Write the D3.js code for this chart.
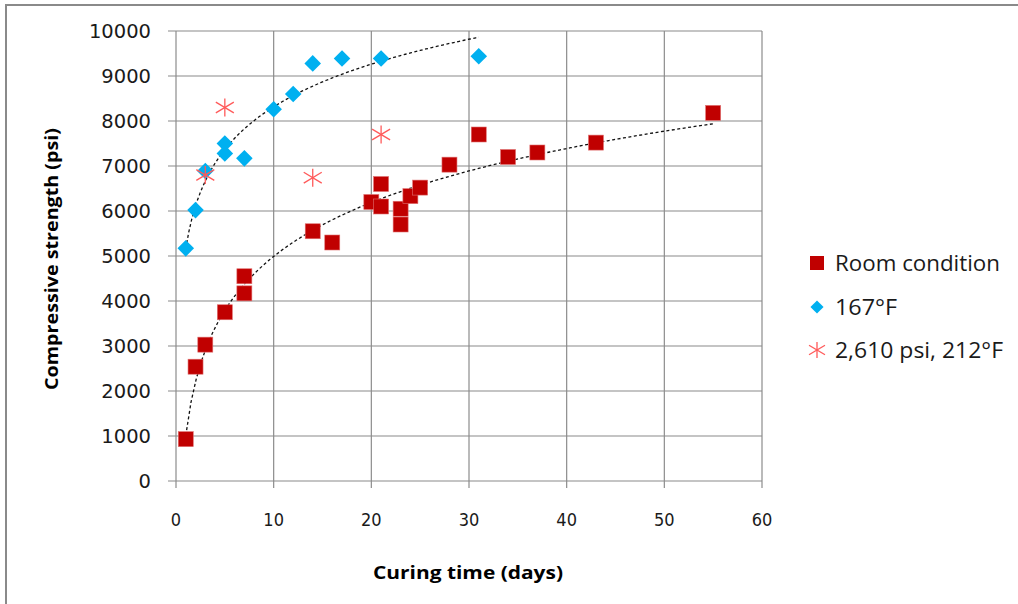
<!DOCTYPE html>
<meta charset="utf-8">
<style>
  body { margin: 0; background: #fff; }
  * { font-family: 'Open Sans', sans-serif; }
</style>
<svg width="1018" height="604"></svg>
<script src="https://d3js.org/d3.v7.min.js"></script>
<script>
// Room condition
var roomDays = [1, 2, 3, 5, 7, 7, 14, 16, 20, 21, 21, 23, 23, 24, 25, 28, 31, 34, 37, 43, 55];
var roomPsi  = [930, 2540, 3030, 3750, 4550, 4170, 5550, 5300, 6200, 6600, 6100, 6050, 5700, 6330, 6520, 7030, 7700, 7200, 7300, 7520, 8180];
// 167°F
var hotDays = [1, 2, 3, 5, 5, 7, 10, 12, 14, 17, 21, 31];
var hotPsi  = [5170, 6020, 6890, 7500, 7280, 7170, 8260, 8600, 9280, 9390, 9390, 9440];
// 2,610 psi, 212°F
var pressDays = [3, 5, 14, 21];
var pressPsi  = [6800, 8300, 6740, 7700];

var xTicks = [0, 10, 20, 30, 40, 50, 60];
var yTicks = [0, 1000, 2000, 3000, 4000, 5000, 6000, 7000, 8000, 9000, 10000];
var seriesNames = ["Room condition", "167°F", "2,610 psi, 212°F"];
var legendWidths = [165, 62, 168];

var svg = d3.select("svg");
var plot = {left: 176, right: 762, top: 31, bottom: 481};

var x = d3.scaleLinear().domain([0, 60]).range([plot.left, plot.right]);
var y = d3.scaleLinear().domain([0, 10000]).range([plot.bottom, plot.top]);

// frame lines of the picture
svg.append("line").attr("x1", 5).attr("x2", 1018).attr("y1", 5).attr("y2", 5)
    .attr("stroke", "#8a8a8a").attr("stroke-width", 2);
svg.append("line").attr("x1", 6).attr("x2", 6).attr("y1", 4).attr("y2", 604)
    .attr("stroke", "#8a8a8a").attr("stroke-width", 2);

// gridlines
svg.append("g").selectAll("line").data(yTicks).join("line")
    .attr("x1", plot.left - 8).attr("x2", plot.right)
    .attr("y1", d => y(d)).attr("y2", d => y(d))
    .attr("stroke", "#b0b0b0").attr("stroke-width", 1.5);
svg.append("g").selectAll("line").data(xTicks).join("line")
    .attr("x1", d => x(d)).attr("x2", d => x(d))
    .attr("y1", plot.top).attr("y2", plot.bottom + 7)
    .attr("stroke", "#8c8c8c").attr("stroke-width", 1.2);

// tick labels
svg.append("g").selectAll("text").data(yTicks).join("text")
    .attr("x", 151).attr("y", d => y(d)).attr("dy", "0.36em")
    .attr("text-anchor", "end")
    .style("font-family", "'DejaVu Sans'").style("font-size", "19.5px").attr("fill", "#1a1a1a")
    .text(d => d);
svg.append("g").selectAll("text").data(xTicks).join("text")
    .attr("x", d => x(d)).attr("y", 520).attr("dy", "0.36em")
    .attr("text-anchor", "middle")
    .style("font-family", "'Liberation Sans Narrow', 'DejaVu Sans Condensed', 'Open Sans'")
    .style("font-size", "18px").attr("fill", "#1a1a1a")
    .text(d => d);

// axis titles
svg.append("text")
    .attr("x", 468).attr("y", 573).attr("dy", "0.36em")
    .attr("text-anchor", "middle")
    .style("font-size", "18px").style("font-weight", "bold")
    .attr("textLength", 190).attr("lengthAdjust", "spacingAndGlyphs")
    .text("Curing time (days)");
svg.append("text")
    .attr("transform", "translate(52,259) rotate(-90)")
    .attr("dy", "0.36em")
    .attr("text-anchor", "middle")
    .style("font-size", "18px").style("font-weight", "bold")
    .attr("textLength", 262).attr("lengthAdjust", "spacingAndGlyphs")
    .text("Compressive strength (psi)");

// log trendlines fitted from the data (like Excel's logarithmic trendline)
function logFit(xs, ys) {
  var lx = xs.map(Math.log);
  var mx = d3.mean(lx), my = d3.mean(ys);
  var sxy = d3.sum(lx, (v, i) => (v - mx) * (ys[i] - my));
  var sxx = d3.sum(lx, v => (v - mx) * (v - mx));
  var a = sxy / sxx, b = my - a * mx;
  var lo = d3.min(xs), hi = d3.max(xs);
  return d3.range(0, 101).map(k => {
    var t = lo + (hi - lo) * k / 100;
    return [t, a * Math.log(t) + b];
  });
}
var line = d3.line().x(d => x(d[0])).y(d => y(d[1]));
[[roomDays, roomPsi], [hotDays, hotPsi]].forEach(s => {
  svg.append("path").attr("d", line(logFit(s[0], s[1])))
      .attr("fill", "none").attr("stroke", "#111").attr("stroke-width", 1.3)
      .attr("stroke-dasharray", "3,2.5");
});

// markers
var roomData = roomDays.map((d, i) => [d, roomPsi[i]]);
var hotData = hotDays.map((d, i) => [d, hotPsi[i]]);
var pressData = pressDays.map((d, i) => [d, pressPsi[i]]);

var sq = 15;
svg.append("g").selectAll("rect").data(roomData).join("rect")
    .attr("x", d => x(d[0]) - sq / 2).attr("y", d => y(d[1]) - sq / 2)
    .attr("width", sq).attr("height", sq)
    .attr("fill", "#c00000").attr("stroke", "#e07070").attr("stroke-width", 0.6);

var diamond = d3.symbol().type(d3.symbolDiamond2).size(175);
svg.append("g").selectAll("path").data(hotData).join("path")
    .attr("transform", d => "translate(" + x(d[0]) + "," + y(d[1]) + ")")
    .attr("d", diamond).attr("fill", "#00b0f0");

function asterisk(g, r) {
  g.append("line").attr("x1", 0).attr("x2", 0).attr("y1", -r).attr("y2", r);
  g.append("line").attr("x1", -r).attr("x2", r).attr("y1", -r * 0.6).attr("y2", r * 0.6);
  g.append("line").attr("x1", -r).attr("x2", r).attr("y1", r * 0.6).attr("y2", -r * 0.6);
}
svg.append("g").selectAll("g").data(pressData).join("g")
    .attr("transform", d => "translate(" + x(d[0]) + "," + y(d[1]) + ")")
    .attr("stroke", "#ff5a5a").attr("stroke-width", 1.3)
    .each(function() { asterisk(d3.select(this), 9); });

// legend
var lg = svg.append("g");
var ly = [263, 307, 350];
lg.append("rect").attr("x", 810).attr("y", ly[0] - 7).attr("width", 14).attr("height", 14)
    .attr("fill", "#c00000");
lg.append("path").attr("transform", "translate(817," + ly[1] + ")")
    .attr("d", d3.symbol().type(d3.symbolDiamond2).size(110)).attr("fill", "#00b0f0");
var la = lg.append("g").attr("transform", "translate(817," + ly[2] + ")")
    .attr("stroke", "#ff5a5a").attr("stroke-width", 1.3);
asterisk(la, 8);
lg.selectAll("text").data(seriesNames).join("text")
    .attr("x", 835).attr("y", (d, i) => ly[i]).attr("dy", "0.36em")
    .style("font-size", "21px").attr("fill", "#1a1a1a")
    .attr("textLength", (d, i) => legendWidths[i]).attr("lengthAdjust", "spacingAndGlyphs")
    .text(d => d);
</script>
